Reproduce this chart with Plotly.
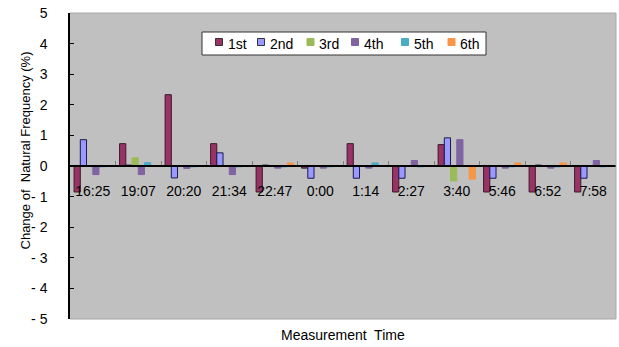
import plotly.graph_objects as go

# Measurement times (categories) and the change of natural frequency (%) per mode
times = ["16:25", "19:07", "20:20", "21:34", "22:47", "0:00",
         "1:14", "2:27", "3:40", "5:46", "6:52", "7:58"]
mode_1st = [-0.85, 0.73, 2.33, 0.73, -0.85, -0.07, 0.73, -0.85, 0.70, -0.85, -0.85, -0.85]
mode_2nd = [0.86, 0.03, -0.39, 0.43, 0.03, -0.40, -0.40, -0.40, 0.92, -0.40, 0.03, -0.40]
mode_3rd = [0.0, 0.27, 0.0, 0.0, 0.0, 0.0, 0.0, 0.0, -0.49, 0.0, 0.0, 0.0]
mode_4th = [-0.28, -0.28, -0.08, -0.28, -0.07, -0.07, -0.07, 0.18, 0.86, -0.07, -0.07, 0.18]
mode_5th = [-0.03, 0.11, -0.03, -0.03, -0.03, -0.03, 0.10, -0.03, 0.0, -0.03, -0.03, -0.03]
mode_6th = [0.0, 0.0, 0.0, 0.0, 0.10, 0.0, 0.0, 0.0, -0.43, 0.10, 0.10, 0.0]

y_tick_vals = [5, 4, 3, 2, 1, 0, -1, -2, -3, -4, -5]
y_tick_text = ["5", "4", "3", "2", "1", "0", "- 1", "- 2", "- 3", "- 4", "- 5"]

series_names = ["1st", "2nd", "3rd", "4th", "5th", "6th"]
series_values = [mode_1st, mode_2nd, mode_3rd, mode_4th, mode_5th, mode_6th]
fill_colors = ["#993366", "#9999FF", "#9BBB59", "#8064A2", "#4BACC6", "#F79646"]
edge_colors = ["#3a1a2a", "#1a1a4d", "#9BBB59", "#8064A2", "#4BACC6", "#F79646"]

FONT = "Arial, Liberation Sans, sans-serif"
W, H = 619, 347
M_L, M_R, M_T, M_B = 70, 3, 13, 28
PLOT_W = W - M_L - M_R
PLOT_H = H - M_T - M_B


def px_x(px):
    """Pixel column -> paper x."""
    return (px - M_L) / PLOT_W


def px_y(py):
    """Pixel row (from top) -> paper y."""
    return (H - M_B - py) / PLOT_H


fig = go.Figure()
for name, vals, color, edge in zip(series_names, series_values, fill_colors, edge_colors):
    fig.add_trace(go.Bar(
        x=times, y=vals, name=name, showlegend=False,
        marker=dict(color=color, line=dict(color=edge, width=1)),
    ))

# Compact key box: small swatches with their labels in one row
shapes = [
    dict(type="line", xref="paper", yref="paper", x0=0, x1=1, y0=1, y1=1,
         line=dict(color="#A8A8A8", width=1)),
    dict(type="line", xref="paper", yref="paper", x0=0, x1=1, y0=0, y1=0,
         line=dict(color="#A8A8A8", width=1)),
    dict(type="line", xref="paper", yref="paper", x0=1, x1=1, y0=0, y1=1,
         line=dict(color="#A8A8A8", width=1)),
    dict(type="rect", xref="paper", yref="paper",
         x0=px_x(202), x1=px_x(486), y0=px_y(55), y1=px_y(32),
         fillcolor="white", line=dict(color="#333333", width=1), layer="above"),
]
annotations = [
    dict(text="Measurement  Time", xref="paper", yref="paper",
         x=0.5, y=-0.052, xanchor="center", yanchor="middle",
         showarrow=False, font=dict(family=FONT, size=14, color="black")),
    dict(text="Change of  Natural Frequency (%)", xref="paper", yref="paper",
         x=-0.081, y=0.55, xanchor="center", yanchor="middle",
         textangle=-90, showarrow=False,
         font=dict(family=FONT, size=13, color="black")),
]
swatch_x = [219, 261, 310.5, 355, 405, 451.5]
for sx, name, color, edge in zip(swatch_x, series_names, fill_colors, edge_colors):
    shapes.append(dict(
        type="rect", xref="paper", yref="paper",
        x0=px_x(sx - 3.5), x1=px_x(sx + 3.5), y0=px_y(45.5), y1=px_y(38.5),
        fillcolor=color, line=dict(color="#333333" if name in ("1st", "2nd") else color, width=1),
        layer="above",
    ))
    annotations.append(dict(
        text=name, xref="paper", yref="paper",
        x=px_x(sx + 6.5), y=px_y(44.5), xanchor="left", yanchor="middle",
        showarrow=False, font=dict(family=FONT, size=14, color="black"),
    ))

fig.update_layout(
    width=W, height=H,
    margin=dict(l=M_L, r=M_R, t=M_T, b=M_B),
    paper_bgcolor="white",
    plot_bgcolor="#C0C0C0",
    barmode="group",
    bargap=0.18,
    bargroupgap=0,
    font=dict(family=FONT, size=14, color="black"),
    showlegend=False,
    xaxis=dict(
        type="category",
        anchor="free", position=0.5,
        showline=True, linecolor="black", linewidth=1.5,
        ticks="inside", tickson="boundaries", ticklen=4,
        tickcolor="#808080", tickwidth=1,
        ticklabelstandoff=12,
        tickfont=dict(family=FONT, size=14, color="black"),
        showgrid=False, zeroline=False,
    ),
    yaxis=dict(
        range=[-5, 5],
        tickvals=y_tick_vals, ticktext=y_tick_text,
        showline=True, linecolor="black", linewidth=1.5,
        ticks="inside", ticklen=4, tickcolor="black",
        ticklabelstandoff=18,
        tickfont=dict(family=FONT, size=14, color="black"),
        showgrid=False,
        zeroline=True, zerolinecolor="black", zerolinewidth=1.5,
    ),
    shapes=shapes,
    annotations=annotations,
)

fig.write_html("out.html")
